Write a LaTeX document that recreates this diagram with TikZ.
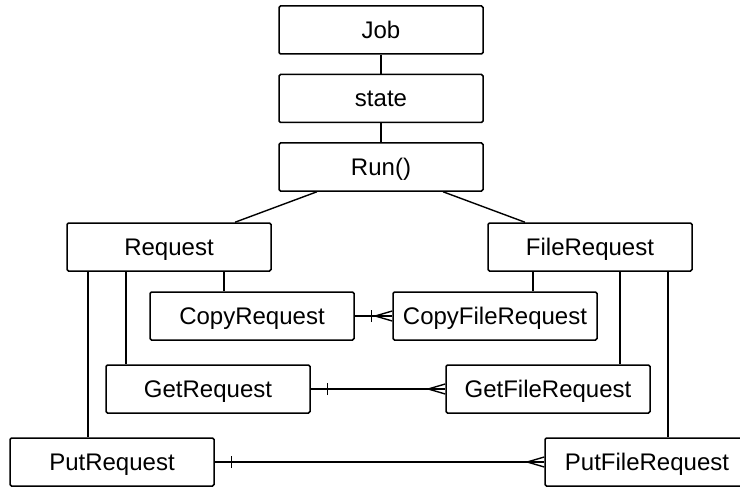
\documentclass[tikz,border=0pt]{standalone}
\usepackage{fontspec}
\setmainfont{Liberation Sans}
\begin{document}
\begin{tikzpicture}[x=1pt,y=-1pt,
  box/.style={draw, line width=1.5pt, rounded corners=1.5pt, minimum width=204pt, minimum height=48pt,
    inner sep=0pt, text height=19.5pt, text depth=3pt, font=\fontsize{24}{28}\selectfont},
  conn/.style={line width=1.4pt},
]
\useasboundingbox (0,0) rectangle (740,487);
\node[box] (job) at (381,30) {Job};
\node[box] (state) at (381,98.5) {state};
\node[box] (run) at (381,167) {Run()};
\node[box] (request) at (169,247) {Request};
\node[box] (filereq) at (590,247) {FileRequest};
\node[box] (copyreq) at (252,316) {CopyRequest};
\node[box] (copyfile) at (495,316) {CopyFileRequest};
\node[box] (getreq) at (208,389) {GetRequest};
\node[box] (getfile) at (548,389) {GetFileRequest};
\node[box] (putreq) at (112,462) {PutRequest};
\node[box] (putfile) at (647,462) {PutFileRequest};

\draw[conn] (job) -- (state);
\draw[conn] (state) -- (run);
\draw[conn] ([xshift=-64pt]run.south) -- ([xshift=66pt]request.north);
\draw[conn] ([xshift=62pt]run.south) -- ([xshift=-65pt]filereq.north);

\draw[conn] ([xshift=-81pt]request.south) coordinate (r1) -- (r1 |- putreq.north);
\draw[conn] ([xshift=-43pt]request.south) coordinate (r2) -- (r2 |- getreq.north);
\draw[conn] ([xshift=55pt]request.south) coordinate (r3) -- (r3 |- copyreq.north);

\draw[conn] ([xshift=-57pt]filereq.south) coordinate (f1) -- (f1 |- copyfile.north);
\draw[conn] ([xshift=30pt]filereq.south) coordinate (f2) -- (f2 |- getfile.north);
\draw[conn] ([xshift=78pt]filereq.south) coordinate (f3) -- (f3 |- putfile.north);

\foreach \a/\b in {copyreq/copyfile, getreq/getfile, putreq/putfile}{
  \draw[conn] (\a.east) -- (\b.west);
  \draw[conn] ([xshift=17pt,yshift=-6pt]\a.east) -- ([xshift=17pt,yshift=6pt]\a.east);
  \draw[conn] ([yshift=-5pt]\b.west) -- ([xshift=-17pt]\b.west) -- ([yshift=5pt]\b.west);
}
\end{tikzpicture}
\end{document}
